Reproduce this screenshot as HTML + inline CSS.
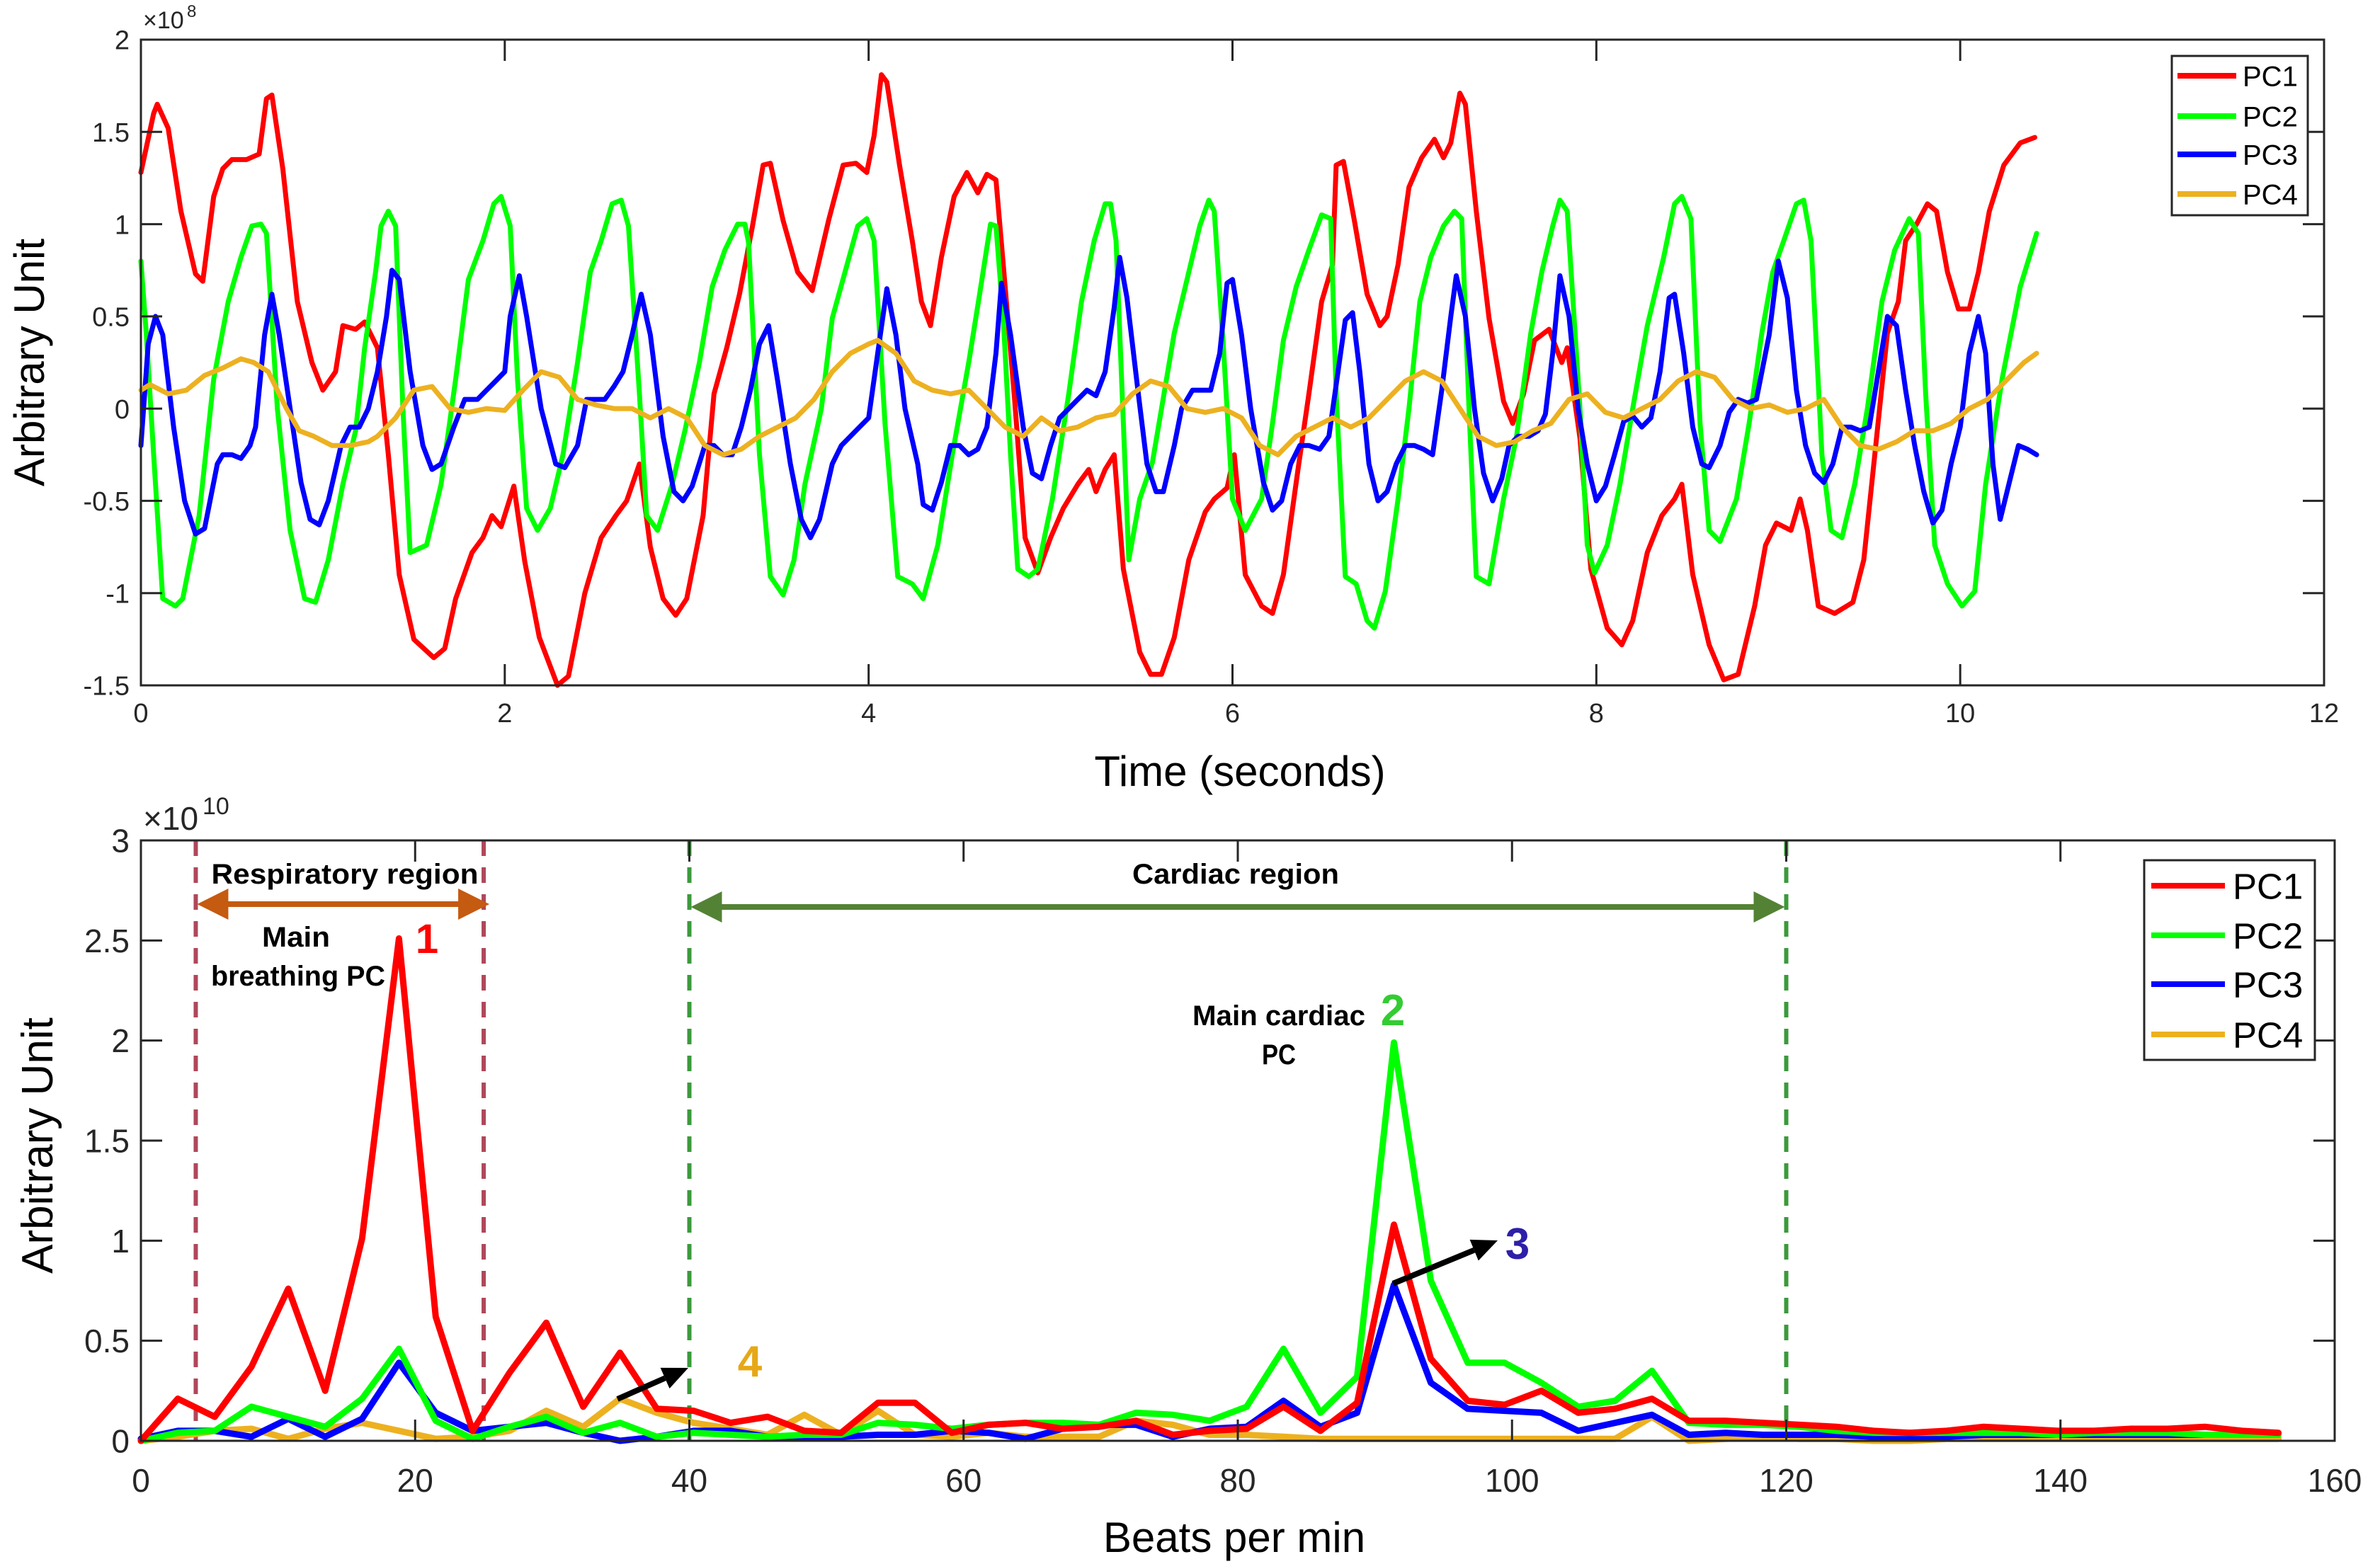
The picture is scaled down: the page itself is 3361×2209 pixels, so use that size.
<!DOCTYPE html>
<html><head><meta charset="utf-8">
<style>
html,body{margin:0;padding:0;background:#fff;}
svg{display:block;font-family:"Liberation Sans",sans-serif;}
</style></head>
<body>
<svg id="fig" width="3361" height="2209" viewBox="0 0 3361 2209" xmlns="http://www.w3.org/2000/svg">
<rect x="0" y="0" width="3361" height="2209" fill="#fff"/>
<g id="top"></g>
<g id="bot"></g>
</svg>
<script>
// ---------- top chart data (time seconds, value x1e8) ----------
const topXTicks = [0,2,4,6,8,10,12];
const topYTicks = [-1.5,-1,-0.5,0,0.5,1,1.5,2];
const topYLabels = ["-1.5","-1","-0.5","0","0.5","1","1.5","2"];
const pc1Time = [[0,1.28],[.07,1.6],[.09,1.65],[.15,1.52],[.22,1.07],[.3,.73],[.34,.69],[.4,1.15],[.45,1.3],[.5,1.35],[.58,1.35],[.65,1.38],[.69,1.68],[.72,1.7],[.78,1.3],[.86,.58],[.94,.25],[1.0,.1],[1.07,.2],[1.11,.45],[1.18,.43],[1.23,.47],[1.3,.33],[1.36,-.25],[1.42,-.9],[1.5,-1.25],[1.61,-1.35],[1.67,-1.3],[1.73,-1.03],[1.82,-.78],[1.88,-.7],[1.93,-.58],[1.98,-.64],[2.05,-.42],[2.11,-.83],[2.19,-1.24],[2.29,-1.5],[2.35,-1.45],[2.44,-1.0],[2.53,-.7],[2.61,-.58],[2.67,-.5],[2.74,-.3],[2.8,-.75],[2.87,-1.03],[2.94,-1.12],[3.0,-1.03],[3.09,-.58],[3.15,.08],[3.22,.33],[3.29,.62],[3.36,.98],[3.42,1.32],[3.46,1.33],[3.53,1.02],[3.61,.74],[3.69,.64],[3.78,1.02],[3.86,1.32],[3.93,1.33],[3.99,1.28],[4.03,1.48],[4.07,1.81],[4.1,1.77],[4.17,1.32],[4.24,.91],[4.29,.58],[4.34,.45],[4.4,.82],[4.47,1.15],[4.54,1.28],[4.6,1.17],[4.65,1.27],[4.7,1.24],[4.74,.78],[4.8,.08],[4.86,-.7],[4.93,-.89],[5.0,-.7],[5.07,-.54],[5.15,-.41],[5.21,-.33],[5.25,-.45],[5.3,-.33],[5.35,-.25],[5.4,-.87],[5.49,-1.32],[5.55,-1.44],[5.61,-1.44],[5.68,-1.24],[5.76,-.82],[5.85,-.56],[5.9,-.49],[5.97,-.43],[6.01,-.25],[6.07,-.9],[6.16,-1.07],[6.22,-1.11],[6.28,-.9],[6.36,-.33],[6.42,.08],[6.49,.58],[6.55,.78],[6.57,1.32],[6.61,1.34],[6.67,1.02],[6.74,.62],[6.81,.45],[6.85,.5],[6.91,.78],[6.97,1.2],[7.04,1.36],[7.11,1.46],[7.16,1.36],[7.2,1.44],[7.25,1.71],[7.28,1.65],[7.34,1.07],[7.41,.49],[7.49,.04],[7.54,-.08],[7.6,.08],[7.66,.37],[7.74,.43],[7.81,.25],[7.84,.33],[7.91,-.16],[7.97,-.87],[8.06,-1.19],[8.14,-1.28],[8.2,-1.15],[8.28,-.78],[8.36,-.58],[8.43,-.49],[8.47,-.41],[8.53,-.9],[8.62,-1.28],[8.7,-1.47],[8.78,-1.44],[8.87,-1.07],[8.93,-.74],[8.99,-.62],[9.07,-.66],[9.12,-.49],[9.16,-.66],[9.22,-1.07],[9.31,-1.11],[9.41,-1.05],[9.47,-.82],[9.54,-.16],[9.6,.41],[9.66,.58],[9.7,.91],[9.76,1.0],[9.82,1.11],[9.87,1.07],[9.93,.74],[9.99,.54],[10.05,.54],[10.1,.74],[10.16,1.07],[10.24,1.32],[10.33,1.44],[10.41,1.47]];
const pc2Time = [[0,.8],[.03,.4],[.07,-.25],[.12,-1.03],[.19,-1.07],[.23,-1.03],[.32,-.58],[.4,.16],[.48,.58],[.55,.82],[.61,.99],[.66,1.0],[.69,.95],[.75,0],[.82,-.66],[.9,-1.03],[.96,-1.05],[1.03,-.82],[1.11,-.41],[1.18,-.12],[1.23,.33],[1.29,.74],[1.32,.99],[1.36,1.07],[1.4,.99],[1.44,0],[1.48,-.78],[1.57,-.74],[1.65,-.41],[1.73,.16],[1.8,.7],[1.88,.91],[1.94,1.11],[1.98,1.15],[2.03,.99],[2.07,.16],[2.12,-.54],[2.18,-.66],[2.25,-.54],[2.32,-.25],[2.4,.25],[2.47,.74],[2.53,.91],[2.59,1.11],[2.64,1.13],[2.68,.99],[2.74,.08],[2.78,-.58],[2.84,-.66],[2.92,-.41],[2.99,-.12],[3.07,.25],[3.14,.66],[3.21,.86],[3.28,1.0],[3.32,1.0],[3.34,.9],[3.4,-.25],[3.46,-.91],[3.53,-1.01],[3.59,-.82],[3.65,-.41],[3.74,0],[3.8,.49],[3.87,.74],[3.94,.99],[3.99,1.03],[4.03,.91],[4.09,-.08],[4.16,-.91],[4.24,-.95],[4.3,-1.03],[4.38,-.74],[4.46,-.25],[4.55,.25],[4.61,.62],[4.67,1.0],[4.7,.99],[4.74,.49],[4.78,-.25],[4.82,-.87],[4.88,-.91],[4.93,-.87],[5.01,-.49],[5.1,.08],[5.17,.58],[5.24,.91],[5.3,1.11],[5.33,1.11],[5.36,.91],[5.4,-.08],[5.43,-.82],[5.49,-.49],[5.56,-.29],[5.61,0],[5.68,.41],[5.76,.74],[5.82,.99],[5.87,1.13],[5.9,1.07],[5.95,.33],[6.0,-.49],[6.07,-.66],[6.16,-.49],[6.22,-.08],[6.28,.37],[6.35,.66],[6.42,.86],[6.49,1.05],[6.54,1.03],[6.57,.08],[6.62,-.91],[6.68,-.95],[6.74,-1.15],[6.78,-1.19],[6.84,-.99],[6.91,-.49],[6.97,0],[7.03,.58],[7.09,.82],[7.16,.99],[7.22,1.07],[7.26,1.03],[7.3,0],[7.34,-.91],[7.41,-.95],[7.49,-.49],[7.56,-.16],[7.64,.41],[7.7,.74],[7.76,.99],[7.8,1.13],[7.84,1.07],[7.91,0],[7.95,-.74],[7.99,-.89],[8.06,-.74],[8.13,-.41],[8.2,0],[8.28,.45],[8.37,.82],[8.43,1.11],[8.47,1.15],[8.52,1.03],[8.57,-.08],[8.62,-.66],[8.68,-.72],[8.77,-.49],[8.84,-.08],[8.91,.41],[8.97,.74],[9.03,.91],[9.1,1.11],[9.14,1.13],[9.18,.91],[9.24,-.25],[9.29,-.66],[9.35,-.7],[9.42,-.41],[9.49,0],[9.57,.58],[9.64,.86],[9.72,1.03],[9.77,.95],[9.81,.08],[9.86,-.74],[9.93,-.95],[10.01,-1.07],[10.08,-.99],[10.14,-.41],[10.23,.16],[10.33,.66],[10.42,.95]];
const pc3Time = [[0,-.2],[.04,.35],[.08,.5],[.12,.4],[.18,-.1],[.24,-.5],[.3,-.68],[.35,-.65],[.42,-.3],[.45,-.25],[.5,-.25],[.55,-.27],[.6,-.2],[.63,-.1],[.68,.4],[.72,.62],[.76,.4],[.82,0],[.88,-.4],[.93,-.6],[.98,-.63],[1.03,-.5],[1.1,-.2],[1.15,-.1],[1.2,-.1],[1.25,0],[1.3,.2],[1.35,.5],[1.38,.75],[1.42,.7],[1.48,.2],[1.55,-.2],[1.6,-.33],[1.65,-.3],[1.72,-.1],[1.78,.05],[1.85,.05],[1.9,.1],[1.95,.15],[2.0,.2],[2.03,.5],[2.08,.72],[2.12,.5],[2.2,0],[2.28,-.3],[2.33,-.32],[2.4,-.2],[2.45,.05],[2.5,.05],[2.55,.05],[2.6,.12],[2.65,.2],[2.7,.4],[2.75,.62],[2.8,.4],[2.87,-.15],[2.93,-.45],[2.98,-.5],[3.03,-.42],[3.1,-.2],[3.15,-.2],[3.2,-.25],[3.25,-.25],[3.3,-.1],[3.35,.1],[3.4,.35],[3.45,.45],[3.5,.15],[3.57,-.3],[3.63,-.6],[3.68,-.7],[3.73,-.6],[3.8,-.3],[3.85,-.2],[3.9,-.15],[3.95,-.1],[4.0,-.05],[4.05,.3],[4.1,.65],[4.15,.4],[4.2,0],[4.27,-.3],[4.3,-.52],[4.35,-.55],[4.4,-.4],[4.45,-.2],[4.5,-.2],[4.55,-.25],[4.6,-.22],[4.65,-.1],[4.7,.3],[4.73,.68],[4.78,.4],[4.85,-.1],[4.9,-.35],[4.95,-.38],[5.0,-.2],[5.05,-.05],[5.1,0],[5.15,.05],[5.2,.1],[5.25,.07],[5.3,.2],[5.35,.55],[5.38,.82],[5.42,.6],[5.48,.1],[5.53,-.3],[5.58,-.45],[5.62,-.45],[5.68,-.2],[5.72,0],[5.78,.1],[5.83,.1],[5.88,.1],[5.93,.3],[5.97,.68],[6.0,.7],[6.05,.4],[6.1,0],[6.17,-.4],[6.22,-.55],[6.27,-.5],[6.32,-.3],[6.37,-.2],[6.42,-.2],[6.48,-.22],[6.53,-.15],[6.58,.2],[6.62,.48],[6.66,.52],[6.7,.2],[6.75,-.3],[6.8,-.5],[6.85,-.45],[6.9,-.3],[6.95,-.2],[7.0,-.2],[7.05,-.22],[7.1,-.25],[7.15,.1],[7.2,.5],[7.23,.72],[7.28,.5],[7.33,0],[7.38,-.35],[7.43,-.5],[7.48,-.38],[7.52,-.2],[7.57,-.15],[7.63,-.15],[7.68,-.12],[7.72,-.03],[7.76,.3],[7.8,.72],[7.85,.5],[7.9,0],[7.95,-.3],[8.0,-.5],[8.05,-.42],[8.1,-.25],[8.15,-.07],[8.2,-.04],[8.25,-.1],[8.3,-.05],[8.35,.2],[8.4,.6],[8.43,.62],[8.48,.3],[8.53,-.1],[8.58,-.3],[8.62,-.32],[8.68,-.2],[8.73,-.02],[8.78,.05],[8.83,.03],[8.88,.05],[8.95,.4],[9.0,.8],[9.05,.6],[9.1,.1],[9.15,-.2],[9.2,-.35],[9.25,-.4],[9.3,-.3],[9.35,-.1],[9.4,-.1],[9.45,-.12],[9.5,-.1],[9.55,.2],[9.6,.5],[9.65,.45],[9.7,.1],[9.75,-.2],[9.8,-.45],[9.85,-.62],[9.9,-.55],[9.95,-.3],[10.0,-.1],[10.05,.3],[10.1,.5],[10.14,.3],[10.18,-.3],[10.22,-.6],[10.27,-.4],[10.32,-.2],[10.37,-.22],[10.42,-.25]];
const pc4Time = [[0,.1],[.05,.13],[.15,.08],[.25,.1],[.35,.18],[.45,.22],[.55,.27],[.62,.25],[.7,.2],[.8,0],[.87,-.12],[.95,-.15],[1.05,-.2],[1.15,-.2],[1.25,-.18],[1.3,-.15],[1.4,-.05],[1.5,.1],[1.6,.12],[1.7,0],[1.8,-.02],[1.9,0],[2.0,-.01],[2.1,.1],[2.2,.2],[2.3,.17],[2.4,.05],[2.5,.02],[2.6,0],[2.7,0],[2.8,-.05],[2.9,0],[3.0,-.05],[3.1,-.2],[3.2,-.25],[3.3,-.22],[3.4,-.15],[3.5,-.1],[3.6,-.05],[3.7,.05],[3.8,.2],[3.9,.3],[4.0,.35],[4.05,.37],[4.15,.3],[4.25,.15],[4.35,.1],[4.45,.08],[4.55,.1],[4.65,0],[4.75,-.1],[4.85,-.15],[4.95,-.05],[5.05,-.12],[5.15,-.1],[5.25,-.05],[5.35,-.03],[5.45,.08],[5.55,.15],[5.65,.12],[5.75,0],[5.85,-.02],[5.95,0],[6.05,-.05],[6.15,-.2],[6.25,-.25],[6.35,-.15],[6.45,-.1],[6.55,-.05],[6.65,-.1],[6.75,-.05],[6.85,.05],[6.95,.15],[7.05,.2],[7.15,.15],[7.25,0],[7.35,-.15],[7.45,-.2],[7.55,-.18],[7.65,-.12],[7.75,-.08],[7.85,.05],[7.95,.08],[8.05,-.02],[8.15,-.05],[8.25,0],[8.35,.05],[8.45,.15],[8.55,.2],[8.65,.17],[8.75,.05],[8.85,0],[8.95,.02],[9.05,-.02],[9.15,0],[9.25,.05],[9.35,-.1],[9.45,-.2],[9.55,-.22],[9.65,-.18],[9.75,-.12],[9.85,-.12],[9.95,-.08],[10.05,0],[10.15,.05],[10.25,.15],[10.35,.25],[10.42,.3]];

// ---------- bottom chart data (bpm, value x1e10) ----------
const botXTicks = [0,20,40,60,80,100,120,140,160];
const botYTicks = [0,0.5,1,1.5,2,2.5,3];
const botYLabels = ["0","0.5","1","1.5","2","2.5","3"];
const bpm = [0,2.69,5.38,8.06,10.75,13.44,16.13,18.82,21.5,24.19,26.88,29.57,32.26,34.94,37.63,40.32,43.01,45.7,48.38,51.07,53.76,56.45,59.14,61.82,64.51,67.2,69.89,72.58,75.26,77.95,80.64,83.33,86.02,88.7,91.39,94.08,96.77,99.46,102.14,104.83,107.52,110.21,112.9,115.58,118.27,120.96,123.65,126.34,129.02,131.71,134.4,137.09,139.78,142.46,145.15,147.84,150.53,153.22,155.9];
const pc1Spec = [0,.21,.12,.37,.76,.25,1.01,2.51,.62,.05,.34,.59,.17,.44,.16,.15,.09,.12,.05,.04,.19,.19,.04,.08,.09,.06,.07,.1,.03,.05,.06,.17,.05,.19,1.08,.41,.2,.18,.25,.14,.16,.21,.1,.1,.09,.08,.07,.05,.04,.05,.07,.06,.05,.05,.06,.06,.07,.05,.04];
const pc2Spec = [0,.04,.05,.17,.12,.07,.21,.46,.1,.01,.07,.12,.04,.09,.02,.04,.03,.02,.03,.03,.09,.08,.06,.08,.09,.09,.08,.14,.13,.1,.17,.46,.14,.32,1.99,.8,.39,.39,.29,.17,.2,.35,.09,.08,.08,.07,.05,.04,.04,.04,.04,.04,.03,.04,.04,.04,.03,.03,.03];
const pc3Spec = [.01,.05,.05,.02,.11,.02,.11,.39,.14,.05,.07,.09,.04,0,.02,.05,.05,.02,.02,.02,.03,.03,.05,.04,.01,.06,.08,.08,.02,.06,.07,.2,.07,.14,.78,.29,.16,.15,.14,.05,.09,.13,.03,.04,.03,.03,.03,.02,.02,.02,.03,.03,.03,.03,.03,.03,.03,.03,.03];
const pc4Spec = [0,.02,.05,.06,.01,.06,.09,.05,.01,.02,.05,.15,.07,.21,.14,.09,.06,.03,.13,.03,.15,.03,.02,.04,.02,.02,.02,.1,.08,.03,.03,.02,.01,.01,.01,.01,.01,.01,.01,.01,.01,.12,0,.01,.02,.01,.01,0,0,.01,.01,.01,.01,.01,.01,.01,.01,.01,.01];
const seriesNames = ["PC1","PC2","PC3","PC4"];
const seriesColors = ["#ff0000","#00ff00","#0000ff","#edb120"];

const NS = "http://www.w3.org/2000/svg";
function mk(parent, tag, attrs, text){
  const e = document.createElementNS(NS, tag);
  for (const k in attrs) e.setAttribute(k, attrs[k]);
  if (text !== undefined) e.textContent = text;
  parent.appendChild(e);
  return e;
}

const T = {l:199, r:3282, t:56, b:968, xmin:0, xmax:12, ymin:-1.5, ymax:2};
const B = {l:199, r:3297, t:1187, b:2035, xmin:0, xmax:160, ymin:0, ymax:3};
function sx(A, v){ return A.l + (v - A.xmin) * (A.r - A.l) / (A.xmax - A.xmin); }
function sy(A, v){ return A.b - (v - A.ymin) * (A.b - A.t) / (A.ymax - A.ymin); }

function drawAxes(g, A, xt, yt, ylab, tickFs, xlabDy, nm){
  for (const v of xt){
    const x = sx(A, v);
    const a = mk(g, "line", {x1:x, y1:A.b, x2:x, y2:A.b-30, stroke:"#262626","stroke-width":3});
    
    
    const b = mk(g, "line", {x1:x, y1:A.t, x2:x, y2:A.t+30, stroke:"#262626","stroke-width":3});
    
    
    const t = mk(g, "text", {x:x, y:A.b + xlabDy, "font-size":tickFs, "text-anchor":"middle", fill:"#262626"}, String(v));
    
    
  }
  yt.forEach((v, i) => {
    const y = sy(A, v);
    const a = mk(g, "line", {x1:A.l, y1:y, x2:A.l+30, y2:y, stroke:"#262626","stroke-width":3});
    
    
    const b = mk(g, "line", {x1:A.r, y1:y, x2:A.r-30, y2:y, stroke:"#262626","stroke-width":3});
    
    
    const t = mk(g, "text", {x:A.l-16, y:y + tickFs*0.36, "font-size":tickFs, "text-anchor":"end", fill:"#262626"}, ylab[i]);
    
    
  });
  const box = mk(g, "rect", {x:A.l, y:A.t, width:A.r-A.l, height:A.b-A.t, fill:"none", stroke:"#262626","stroke-width":3});
  
  
}

function drawLine(g, A, pts, color, w, nm){
  const d = pts.map((p,i)=>(i?"L":"M")+sx(A,p[0]).toFixed(1)+","+sy(A,p[1]).toFixed(1)).join("");
  const p = mk(g, "path", {d:d, fill:"none", stroke:color, "stroke-width":w, "stroke-linejoin":"round", "stroke-linecap":"round"});
  
  
}

function drawLegend(g, x, y, w, h, rows, lx1, lx2, tx, fs, nm){
  const r = mk(g, "rect", {x:x, y:y, width:w, height:h, fill:"#fff", stroke:"#262626", "stroke-width":3});
  
  
  seriesNames.forEach((n, i) => {
    const l = mk(g, "line", {x1:lx1, y1:rows[i], x2:lx2, y2:rows[i], stroke:seriesColors[i], "stroke-width":8});
    
    
    const t = mk(g, "text", {x:tx, y:rows[i] + fs*0.36, "font-size":fs, fill:"#000"}, n);
    
    
  });
}

// ---------- TOP ----------
const gt = document.getElementById("top");
drawLine(gt, T, pc1Time, seriesColors[0], 7, "pc1-time-line");
drawLine(gt, T, pc2Time, seriesColors[1], 7, "pc2-time-line");
drawLine(gt, T, pc3Time, seriesColors[2], 7, "pc3-time-line");
drawLine(gt, T, pc4Time, seriesColors[3], 7, "pc4-time-line");
drawAxes(gt, T, topXTicks, topYTicks, topYLabels, 38, 52, "top");
drawLegend(gt, 3067, 79, 192, 225, [107,164,218,274], 3075, 3158, 3167, 40, "top-legend");
const e1 = mk(gt, "text", {x:202, y:40, "font-size":34, fill:"#262626"}, "×10");


const e1s = mk(gt, "text", {x:264, y:24, "font-size":24, fill:"#262626"}, "8");


const yt1 = mk(gt, "text", {x:0, y:0, "font-size":60, "text-anchor":"middle", fill:"#000", transform:"translate(62,512) rotate(-90)"}, "Arbitrary Unit");


const xt1 = mk(gt, "text", {x:1751, y:1110, "font-size":60, "text-anchor":"middle", fill:"#000"}, "Time (seconds)");



// ---------- BOTTOM ----------
const gb = document.getElementById("bot");
function dashed(x, color, nm){
  const l = mk(gb, "line", {x1:x, y1:B.t, x2:x, y2:B.b, stroke:color, "stroke-width":6, "stroke-dasharray":"22,16"});
  
  
}
dashed(sx(B,4), "#b0475a", "respiratory-region-start-line");
dashed(sx(B,25), "#b0475a", "respiratory-region-end-line");
dashed(sx(B,40), "#3b9a3b", "cardiac-region-start-line");
dashed(sx(B,120), "#3b9a3b", "cardiac-region-end-line");

function specPts(vals){ return bpm.map((f,i)=>[f, vals[i]]); }
drawLine(gb, B, specPts(pc4Spec), seriesColors[3], 9, "pc4-spectrum-line");
drawLine(gb, B, specPts(pc3Spec), seriesColors[2], 9, "pc3-spectrum-line");
drawLine(gb, B, specPts(pc2Spec), seriesColors[1], 9, "pc2-spectrum-line");
drawLine(gb, B, specPts(pc1Spec), seriesColors[0], 9, "pc1-spectrum-line");
drawAxes(gb, B, botXTicks, botYTicks, botYLabels, 46, 72, "bottom");
drawLegend(gb, 3028, 1215, 241, 282, [1251,1321,1390,1461], 3038, 3142, 3153, 51, "bottom-legend");

function dblArrow(x1, x2, y, color, nm){
  const g = mk(gb, "g", {});
  
  
  mk(g, "line", {x1:x1+30, y1:y, x2:x2-30, y2:y, stroke:color, "stroke-width":8});
  mk(g, "polygon", {points:`${x1},${y} ${x1+44},${y-22} ${x1+44},${y+22}`, fill:color});
  mk(g, "polygon", {points:`${x2},${y} ${x2-44},${y-22} ${x2-44},${y+22}`, fill:color});
}
dblArrow(sx(B,4)+2, sx(B,25)+8, 1277, "#c55a11", "respiratory-region-arrow");
dblArrow(sx(B,40)+2, sx(B,120)-2, 1281, "#548235", "cardiac-region-arrow");

function label(x, y, s, fs, color, nm, anchor, len){
  const a = {x:x, y:y, "font-size":fs, "font-weight":"bold", fill:color, "text-anchor":anchor||"middle"};
  if (len) { a.textLength = len; a.lengthAdjust = "spacingAndGlyphs"; }
  const t = mk(gb, "text", a, s);
  
  
}
label(487, 1248, "Respiratory region", 40, "#000", "respiratory-region-label", "middle", 377);
label(418, 1337, "Main", 40, "#000", "main-breathing-label-line1", "middle", 96);
label(421, 1392, "breathing PC", 40, "#000", "main-breathing-label-line2", "middle", 246);
label(603, 1346, "1", 58, "#ff0000", "annotation-1");
label(1745, 1248, "Cardiac region", 40, "#000", "cardiac-region-label", "middle", 292);
label(1806, 1448, "Main cardiac", 40, "#000", "main-cardiac-label-line1", "middle", 244);
label(1806, 1503, "PC", 40, "#000", "main-cardiac-label-line2", "middle", 48);
label(1967, 1448, "2", 62, "#33cc33", "annotation-2");
label(2143, 1778, "3", 62, "#2e1fa8", "annotation-3");
label(1059, 1944, "4", 62, "#e6a817", "annotation-4");

function arrow(x1,y1,x2,y2,nm){
  const g = mk(gb, "g", {});
  
  
  const ang = Math.atan2(y2-y1, x2-x1), L = 36, W = 16;
  const bx = x2 - L*Math.cos(ang), by = y2 - L*Math.sin(ang);
  mk(g, "line", {x1:x1, y1:y1, x2:bx, y2:by, stroke:"#000", "stroke-width":8});
  const px = -Math.sin(ang)*W, py = Math.cos(ang)*W;
  mk(g, "polygon", {points:`${x2},${y2} ${bx+px},${by+py} ${bx-px},${by-py}`, fill:"#000"});
}
arrow(1967, 1813, 2115, 1752, "annotation-3-arrow");
arrow(872, 1976, 972, 1932, "annotation-4-arrow");

const e2 = mk(gb, "text", {x:202, y:1172, "font-size":46, fill:"#262626"}, "×10");


const e2s = mk(gb, "text", {x:286, y:1150, "font-size":34, fill:"#262626"}, "10");


const yt2 = mk(gb, "text", {x:0, y:0, "font-size":62, "text-anchor":"middle", fill:"#000", transform:"translate(74,1618) rotate(-90)"}, "Arbitrary Unit");


const xt2 = mk(gb, "text", {x:1743, y:2192, "font-size":60, "text-anchor":"middle", fill:"#000"}, "Beats per min");


</script>
</body></html>
